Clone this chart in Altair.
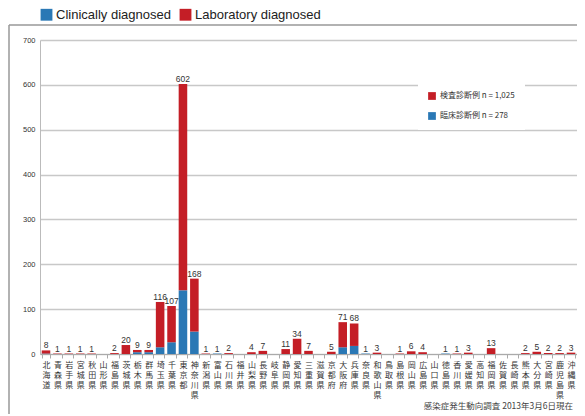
import altair as alt
import pandas as pd

prefectures = ["北海道", "青森県", "岩手県", "宮城県", "秋田県", "山形県", "福島県", "茨城県", "栃木県", "群馬県",
               "埼玉県", "千葉県", "東京都", "神奈川県", "新潟県", "富山県", "石川県", "福井県", "山梨県", "長野県",
               "岐阜県", "静岡県", "愛知県", "三重県", "滋賀県", "京都府", "大阪府", "兵庫県", "奈良県", "和歌山県",
               "鳥取県", "島根県", "岡山県", "広島県", "山口県", "徳島県", "香川県", "愛媛県", "高知県", "福岡県",
               "佐賀県", "長崎県", "熊本県", "大分県", "宮崎県", "鹿児島県", "沖縄県"]
clinical = [1, 0, 0, 0, 0, 0, 0, 0, 4, 4,
            15, 26, 142, 50, 0, 1, 0, 0, 0, 0,
            0, 0, 0, 0, 0, 0, 15, 18, 1, 0,
            0, 0, 0, 0, 0, 1, 0, 0, 0, 0,
            0, 0, 0, 0, 0, 0, 0]
laboratory = [7, 1, 1, 1, 1, 0, 2, 20, 5, 5,
              101, 81, 460, 118, 1, 0, 2, 0, 4, 7,
              0, 11, 34, 7, 0, 5, 56, 50, 0, 3,
              0, 1, 6, 4, 0, 0, 1, 3, 0, 13,
              0, 0, 2, 5, 2, 2, 3]
series_names = ["Clinically diagnosed", "Laboratory diagnosed"]
jp_legend = ["検査診断例 n = 1,025", "臨床診断例 n = 278"]
source_note = "感染症発生動向調査 2013年3月6日現在"

BLUE = "#2a78b5"
RED = "#c41e26"
JP_FONT = "Noto Sans CJK JP"

rows = []
for i, p in enumerate(prefectures):
    rows.append({"pref": p, "series": series_names[0], "value": clinical[i], "ord": 0})
    rows.append({"pref": p, "series": series_names[1], "value": laboratory[i], "ord": 1})
df = pd.DataFrame(rows)

x_enc = alt.X("pref:N", sort=prefectures, title=None,
              scale=alt.Scale(paddingInner=0.25, paddingOuter=0.15),
              axis=alt.Axis(labelAngle=0, labelExpr="split(datum.label, '')",
                            labelFont=JP_FONT, labelFontSize=8, labelLineHeight=10,
                            labelBaseline="top", labelPadding=3, labelColor="#333",
                            tickBand="extent", tickSize=4, tickColor="#aaa",
                            domainColor="#aaa", grid=False))

bars = alt.Chart(df).mark_bar().encode(
    x=x_enc,
    y=alt.Y("sum(value):Q", title=None,
            scale=alt.Scale(domain=[0, 700]),
            axis=alt.Axis(values=list(range(0, 701, 100)), labelFontSize=7.5,
                          labelColor="#333", labelPadding=5, ticks=False,
                          domainColor="#bbb", gridColor="#c8c8c8", gridWidth=1.5)),
    color=alt.Color("series:N", scale=alt.Scale(domain=series_names, range=[BLUE, RED]),
                    legend=alt.Legend(title=None, orient="none", legendX=0, legendY=-32,
                                      direction="horizontal", symbolType="square",
                                      symbolSize=140, symbolStrokeWidth=0,
                                      labelFont="Liberation Sans", labelFontSize=13,
                                      labelColor="#222", columnPadding=8, labelOffset=3)),
    order=alt.Order("ord:Q"),
)

labels = alt.Chart(df).transform_aggregate(
    total="sum(value)", groupby=["pref"]
).transform_filter("datum.total > 0").mark_text(
    dy=-5, fontSize=8.5, color="#333", font="Liberation Sans"
).encode(
    x=alt.X("pref:N", sort=prefectures),
    y=alt.Y("total:Q"),
    text=alt.Text("total:Q"),
)

jp_df = pd.DataFrame({"name": jp_legend})
jp_leg = alt.Chart(jp_df).mark_square(opacity=0).encode(
    x=alt.value(0), y=alt.value(0),
    fill=alt.Fill("name:N", scale=alt.Scale(domain=jp_legend, range=[RED, BLUE]),
                  legend=alt.Legend(title=None, orient="none", legendX=378, legendY=42,
                                    fillColor="white", padding=10, symbolType="square",
                                    symbolSize=60, symbolOpacity=1, symbolStrokeWidth=0,
                                    labelFont=JP_FONT, labelFontSize=8, labelColor="#333",
                                    rowPadding=12, labelOffset=4)),
)

note_df = pd.DataFrame({"note": [source_note]})
note = alt.Chart(note_df).mark_text(
    align="right", baseline="middle", fontSize=8.5, font=JP_FONT, color="#444"
).encode(x=alt.value(533), y=alt.value(366), text="note:N")

one = pd.DataFrame({"k": [0]})
left_border = alt.Chart(one).mark_rule(color="#999", strokeWidth=1.5).encode(
    x=alt.value(-31), y=alt.value(-15), y2=alt.value(400))
top_border = alt.Chart(one).mark_rule(color="#999", strokeWidth=1.5).encode(
    x=alt.value(-31), x2=alt.value(600), y=alt.value(-15))

chart = alt.layer(bars, labels, jp_leg, note, left_border, top_border).resolve_scale(
    color="independent", fill="independent"
).properties(
    width=537, height=314,
    autosize=alt.AutoSizeParams(type="none"),
    padding={"left": 32, "top": 32, "right": 0, "bottom": 60},
).configure_view(stroke=None)

chart.save("out.html", embed_options={"renderer": "svg", "actions": False})
